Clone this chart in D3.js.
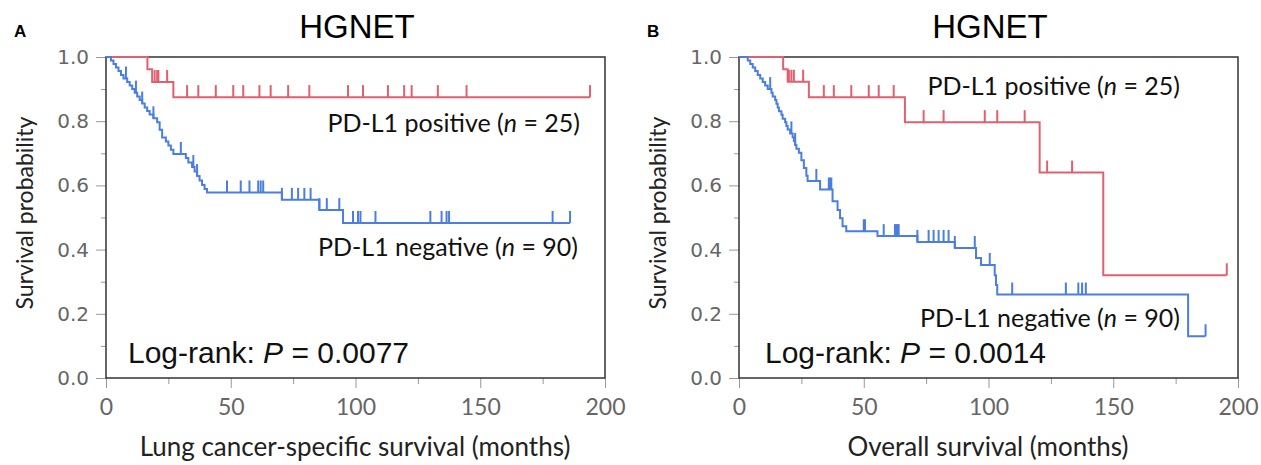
<!DOCTYPE html>
<html>
<head>
<meta charset="utf-8">
<script src="https://cdn.jsdelivr.net/npm/d3@7"></script>
<style>
  body { margin: 0; background: #fff; }
  .tick text { fill: #666; }
</style>
</head>
<body>
<script>
// ---- data: Kaplan-Meier steps [month, survival after drop] and censor times ----
// Panel A - lung cancer-specific survival
const lcssPosSteps = [[16.6, 0.962], [18.5, 0.922], [27, 0.875]];
const lcssPosCensor = [19.5, 20.5, 21, 24.5, 32.5, 37, 44, 51, 55, 61.5, 66, 73, 81.5, 97,
  103, 113, 119.5, 122.5, 133, 144.5, 194];
const lcssNegSteps = [[2, 0.989], [3, 0.978], [4, 0.967], [5, 0.956], [6, 0.944], [7, 0.933],
  [8.5, 0.922], [9.5, 0.911], [10.5, 0.9], [11.5, 0.889], [12.5, 0.877], [13.5, 0.866],
  [14.5, 0.855], [15.5, 0.843], [16.5, 0.832], [17.5, 0.821], [19, 0.809], [20.5, 0.797],
  [21.5, 0.773], [22.5, 0.749], [24, 0.737], [25, 0.724], [26, 0.711], [27, 0.698],
  [32, 0.685], [33, 0.671], [34.5, 0.657], [35.5, 0.643], [36.5, 0.629], [37.5, 0.615],
  [38.5, 0.601], [39.5, 0.589], [40.5, 0.578], [70.5, 0.555], [85.5, 0.523], [95, 0.483]];
const lcssNegCensor = [8, 12, 14.5, 19, 30, 35, 36.5, 48.5, 54, 57.5, 61, 62, 63, 70.5, 74.5,
  77, 79.5, 82, 85.5, 88.5, 93.5, 99, 101, 102, 108, 130, 134.5, 136.5, 137.5, 179, 186];

// Panel B - overall survival
const osPosSteps = [[17.7, 0.962], [19.5, 0.923], [28, 0.875], [66.5, 0.797], [120.5, 0.64],
  [146, 0.32]];
const osPosCensor = [20, 21, 22, 25.7, 34, 38, 45, 52, 56, 62, 74, 82, 98.5, 103.5, 114.5,
  123.5, 133.5, 195.5];
const osNegSteps = [[3.5, 0.989], [4.5, 0.978], [5.5, 0.967], [6.5, 0.956], [7.5, 0.944],
  [8.5, 0.933], [9.5, 0.922], [10.5, 0.911], [11.5, 0.9], [13, 0.889], [13.5, 0.877],
  [14.5, 0.866], [15, 0.854], [15.5, 0.843], [16, 0.831], [17, 0.82], [17.5, 0.808],
  [18.5, 0.797], [19, 0.785], [19.5, 0.774], [20.5, 0.762], [21.5, 0.75], [22, 0.738],
  [22.5, 0.726], [23, 0.714], [24, 0.702], [25, 0.678], [26, 0.654], [27, 0.63],
  [27.5, 0.614], [32.5, 0.587], [37.5, 0.551], [39.5, 0.523], [40.5, 0.498], [41.5, 0.473],
  [43, 0.457], [55.5, 0.442], [71.5, 0.424], [86.5, 0.405], [95, 0.374], [97, 0.352],
  [102.5, 0.32], [103, 0.29], [103.5, 0.26], [180, 0.13]];
const osNegCensor = [12.5, 21, 22.5, 31, 36, 36.5, 37, 50, 50.5, 58, 62.5, 63, 63.5, 64, 71.5,
  76, 78, 80, 82, 84, 86.5, 94.5, 100.5, 109.5, 131, 136, 137.5, 139, 187];

const xTickValues = [0, 50, 100, 150, 200];
const yTickValues = [0, 0.2, 0.4, 0.6, 0.8, 1.0];

const RED = "#e0606f";
const BLUE = "#4a7ee0";

const W = 1261, H = 465;
const svg = d3.select("body").append("svg").attr("width", W).attr("height", H);

const panels = [
  { ox: 0, letter: "A", xTitle: "Lung cancer-specific survival (months)", p: "0.0077",
    pos: lcssPosSteps, posC: lcssPosCensor, neg: lcssNegSteps, negC: lcssNegCensor,
    posLab: [580, 132], negLab: [578, 256] },
  { ox: 633, letter: "B", xTitle: "Overall survival (months)", p: "0.0014",
    pos: osPosSteps, posC: osPosCensor, neg: osNegSteps, negC: osNegCensor,
    posLab: [547, 95], negLab: [547, 327] }
];

const x = d3.scaleLinear().domain([0, 200]).range([106, 605]);
const y = d3.scaleLinear().domain([0, 1]).range([378, 57]);

function survAt(steps, t) {
  let s = 1;
  steps.forEach(d => { if (d[0] <= t) s = d[1]; });
  return s;
}

panels.forEach(p => {
  const g = svg.append("g").attr("transform", `translate(${p.ox},0)`);

  // panel letter + title
  g.append("text").attr("x", 14).attr("y", 37)
    .style("font", "bold 17px 'Liberation Sans', Arial, sans-serif").text(p.letter);
  g.append("text").attr("x", 357).attr("y", 38).attr("text-anchor", "middle")
    .style("font", "33px 'Liberation Sans', Arial, sans-serif").text("HGNET");

  // axes
  const yAx = g.append("g").attr("transform", `translate(${x(0)},0)`)
    .call(d3.axisLeft(y).tickValues(yTickValues).tickSize(10).tickPadding(7)
      .tickFormat(d3.format(".1f")));
  yAx.selectAll("text").style("font", "20px 'DejaVu Sans', sans-serif");
  g.append("g").attr("transform", `translate(${x(0)},0)`)
    .call(d3.axisLeft(y).tickValues([0.1, 0.3, 0.5, 0.7, 0.9]).tickSize(5).tickFormat(""));

  const xAx = g.append("g").attr("transform", `translate(0,${y(0)})`)
    .call(d3.axisBottom(x).tickValues(xTickValues).tickSize(10).tickPadding(11));
  xAx.selectAll("text").style("font", "23px Lato, sans-serif");
  g.append("g").attr("transform", `translate(0,${y(0)})`)
    .call(d3.axisBottom(x).tickValues([25, 75, 125, 175]).tickSize(6).tickFormat(""));

  g.selectAll(".domain").remove();
  g.selectAll(".tick line").attr("stroke", "#999");

  // box
  g.append("rect").attr("x", x(0)).attr("y", y(1))
    .attr("width", x(200) - x(0)).attr("height", y(0) - y(1))
    .attr("fill", "none").attr("stroke", "#333").attr("stroke-width", 1.5);

  // axis titles
  g.append("text").attr("x", 355).attr("y", 456).attr("text-anchor", "middle")
    .style("font", "26px Lato, sans-serif").attr("fill", "#222").text(p.xTitle);
  g.append("text").attr("transform", "translate(33,213) rotate(-90)")
    .attr("text-anchor", "middle")
    .style("font", "23px Lato, sans-serif").attr("fill", "#222").text("Survival probability");

  // curves
  const line = d3.line().x(d => x(d[0])).y(d => y(d[1])).curve(d3.curveStepAfter);
  [[p.pos, p.posC, RED], [p.neg, p.negC, BLUE]].forEach(([steps, cens, col]) => {
    const tEnd = d3.max(cens.concat(steps.map(d => d[0])));
    const pts = [[0, 1]].concat(steps, [[tEnd, steps[steps.length - 1][1]]]);
    g.append("path").datum(pts).attr("d", line)
      .attr("fill", "none").attr("stroke", col).attr("stroke-width", 2);
    g.append("g").selectAll("line").data(cens).join("line")
      .attr("x1", d => x(d)).attr("x2", d => x(d))
      .attr("y1", d => y(survAt(steps, d))).attr("y2", d => y(survAt(steps, d)) - 12)
      .attr("stroke", col).attr("stroke-width", 2);
  });

  // labels
  const lab = (xy, txt) => {
    const t = g.append("text").attr("x", xy[0]).attr("y", xy[1]).attr("text-anchor", "end")
      .style("font", "25px Lato, sans-serif").attr("fill", "#111");
    t.append("tspan").text(txt + " (");
    t.append("tspan").style("font-style", "italic").text("n");
    return t;
  };
  lab(p.posLab, "PD-L1 positive").append("tspan").text(" = 25)");
  lab(p.negLab, "PD-L1 negative").append("tspan").text(" = 90)");

  const lr = g.append("text").attr("x", p.ox ? 132 : 128).attr("y", 363)
    .style("font", "30px 'Liberation Sans', Arial, sans-serif").attr("fill", "#111");
  lr.append("tspan").text("Log-rank: ");
  lr.append("tspan").style("font-style", "italic").text("P");
  lr.append("tspan").text(" = " + p.p);
});
</script>
</body>
</html>
